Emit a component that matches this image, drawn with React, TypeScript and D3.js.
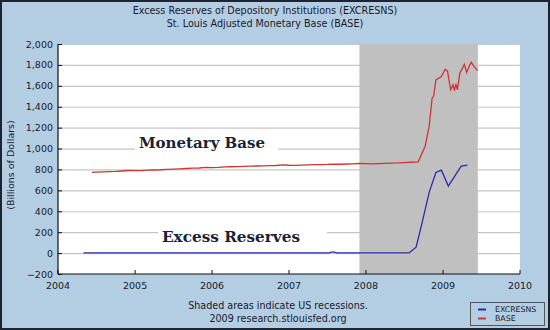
import React from "react";
import * as d3 from "d3";

const titleLines = [
  "Excess Reserves of Depository Institutions (EXCRESNS)",
  "St. Louis Adjusted Monetary Base (BASE)",
];
const footerLines = ["Shaded areas indicate US recessions.", "2009 research.stlouisfed.org"];
const yTicks = [-200, 0, 200, 400, 600, 800, 1000, 1200, 1400, 1600, 1800, 2000];
const xTickYears = [2004, 2005, 2006, 2007, 2008, 2009, 2010];
const recession = ["2007-12-01", "2009-06-15"];

const baseDates = [
  "2004-06-10", "2004-07-01", "2004-08-01", "2004-09-01", "2004-10-01", "2004-11-01", "2004-12-01",
  "2005-01-01", "2005-02-01", "2005-03-01", "2005-04-01", "2005-05-01", "2005-06-01", "2005-07-01",
  "2005-08-01", "2005-09-01", "2005-10-01", "2005-11-01", "2005-12-01",
  "2006-01-01", "2006-02-01", "2006-03-01", "2006-04-01", "2006-05-01", "2006-06-01", "2006-07-01",
  "2006-08-01", "2006-09-01", "2006-10-01", "2006-11-01", "2006-12-01",
  "2007-01-01", "2007-02-01", "2007-03-01", "2007-04-01", "2007-05-01", "2007-06-01", "2007-07-01",
  "2007-08-01", "2007-09-01", "2007-10-01", "2007-11-01", "2007-12-01",
  "2008-01-01", "2008-02-01", "2008-03-01", "2008-04-01", "2008-05-01", "2008-06-01", "2008-07-01",
  "2008-08-01", "2008-09-05", "2008-10-08", "2008-10-27", "2008-11-10", "2008-11-17", "2008-11-28",
  "2008-12-24", "2009-01-11", "2009-01-22", "2009-02-06", "2009-02-17", "2009-02-24", "2009-03-03",
  "2009-03-10", "2009-03-22", "2009-04-01", "2009-04-12", "2009-04-23", "2009-05-04", "2009-05-15",
  "2009-05-26", "2009-06-14",
];
const baseValues = [
  772, 775, 777, 779, 781, 785, 790,
  788, 789, 793, 795, 797, 801, 804,
  806, 809, 812, 814, 820,
  818, 820, 824, 826, 828, 830, 832,
  833, 834, 836, 838, 843,
  840, 839, 842, 844, 846, 847, 848,
  851, 850, 852, 854, 857,
  856, 853, 856, 858, 860, 862, 866,
  869, 873, 1022, 1212, 1483, 1498, 1657,
  1689, 1759, 1740, 1562, 1610, 1555, 1619,
  1562, 1727, 1759, 1806, 1727, 1784, 1826,
  1790, 1746,
];

const excessDates = [
  "2004-05-01", "2004-09-01", "2005-01-01", "2005-06-01", "2006-01-01", "2006-06-01", "2007-01-01",
  "2007-07-10", "2007-07-20", "2007-08-05", "2007-08-15", "2007-09-01", "2008-01-01", "2008-07-24",
  "2008-08-26", "2008-09-20", "2008-10-27", "2008-11-28", "2008-12-24", "2009-01-26", "2009-03-28",
  "2009-04-27",
];
const excessValues = [
  2, 2, 2, 2, 2, 2, 2,
  2, 9, 10, 3, 2, 2, 2,
  57, 260, 581, 771, 793, 641, 831,
  841,
];

const W = 550;
const H = 330;
const left = 58;
const right = 520;
const top = 44;
const bottom = 274;
const FONT = "DejaVu Sans, Verdana, sans-serif";

export default function App() {
  const parse = d3.timeParse("%Y-%m-%d");
  const x = d3
    .scaleTime()
    .domain([new Date(2004, 0, 1), new Date(2010, 0, 1)])
    .range([left, right]);
  const y = d3.scaleLinear().domain([-200, 2000]).range([bottom, top]);

  const base = baseDates.map((d, i) => ({ d: parse(d)!, v: baseValues[i] }));
  const exc = excessDates.map((d, i) => ({ d: parse(d)!, v: excessValues[i] }));
  const line = d3
    .line<{ d: Date; v: number }>()
    .x((p) => x(p.d))
    .y((p) => y(p.v));

  const fmt = d3.format(",");
  const r0 = x(parse(recession[0])!);
  const r1 = x(parse(recession[1])!);

  return (
    <div style={{ position: "absolute", left: 0, top: 0 }}>
      <svg width={W} height={H} style={{ display: "block" }}>
        <rect x={0} y={0} width={W} height={H} fill="#b3cde3" />
        <rect x={1} y={1} width={W - 2} height={H - 2} fill="none" stroke="#1c2433" strokeWidth={2} />

        {titleLines.map((t, i) => (
          <text key={i} x={265} y={14 + i * 13} textAnchor="middle" fontFamily={FONT} fontSize={9.6} fill="#1a1a2a">
            {t}
          </text>
        ))}

        <rect x={left} y={top} width={right - left} height={bottom - top} fill="#ffffff" />
        {yTicks
          .filter((t) => t > -200)
          .map((t) => (
            <line key={t} x1={left} x2={right} y1={y(t) + 0.5} y2={y(t) + 0.5} stroke="#c6c6c6" strokeWidth={1.2} />
          ))}
        <rect x={r0} y={top} width={r1 - r0} height={bottom - top} fill="#c0c0c0" />

        {/* annotation label boxes */}
        <rect x={135} y={130} width={143} height={22} fill="#ffffff" />
        <text x={139} y={148} fontFamily="DejaVu Serif, serif" fontWeight="bold" fontSize={14.5} fill="#1b2235" textLength={126} lengthAdjust="spacingAndGlyphs">
          Monetary Base
        </text>
        <rect x={158} y={226} width={169} height={18} fill="#ffffff" />
        <text x={162} y={242} fontFamily="DejaVu Serif, serif" fontWeight="bold" fontSize={14.5} fill="#1b2235" textLength={138} lengthAdjust="spacingAndGlyphs">
          Excess Reserves
        </text>

        <path d={line(base) ?? ""} fill="none" stroke="#d03434" strokeWidth={1.3} />
        <path d={line(exc) ?? ""} fill="none" stroke="#2a2aa8" strokeWidth={1.3} />

        {/* axes */}
        <line x1={left} x2={left} y1={top} y2={bottom} stroke="#111" strokeWidth={1.2} />
        <line x1={left} x2={right} y1={bottom} y2={bottom} stroke="#111" strokeWidth={1.2} />
        {yTicks.map((t) => (
          <g key={t}>
            <line x1={left} x2={left + 4} y1={y(t) + 0.5} y2={y(t) + 0.5} stroke="#111" />
            <text x={53} y={y(t) + 3.5} textAnchor="end" fontFamily={FONT} fontSize={9.5} fill="#1a1a2a">
              {fmt(t)}
            </text>
          </g>
        ))}
        {xTickYears.map((yr) => {
          const xp = x(new Date(yr, 0, 1));
          return (
            <g key={yr}>
              <line x1={xp} x2={xp} y1={bottom} y2={bottom - 4} stroke="#111" />
              <text x={xp} y={289} textAnchor="middle" fontFamily={FONT} fontSize={9.5} fill="#1a1a2a">
                {yr}
              </text>
            </g>
          );
        })}

        <text
          transform={`translate(14,165) rotate(-90)`}
          textAnchor="middle"
          fontFamily={FONT}
          fontSize={9.5}
          fill="#1a1a2a"
        >
          (Billions of Dollars)
        </text>

        {footerLines.map((t, i) => (
          <text key={i} x={278} y={309 + i * 13} textAnchor="middle" fontFamily={FONT} fontSize={9.6} fill="#1a1a2a">
            {t}
          </text>
        ))}

        {/* legend */}
        <rect x={470.5} y={302.5} width={74} height={23} fill="#b3cde3" stroke="#555" />
        <line x1={478} x2={486} y1={309.5} y2={309.5} stroke="#2a2aa8" strokeWidth={2} />
        <line x1={478} x2={486} y1={318.5} y2={318.5} stroke="#d03434" strokeWidth={2} />
        <text x={495} y={312} fontFamily={FONT} fontSize={7.8} fill="#1a1a2a">EXCRESNS</text>
        <text x={495} y={321} fontFamily={FONT} fontSize={7.8} fill="#1a1a2a">BASE</text>
      </svg>
    </div>
  );
}
